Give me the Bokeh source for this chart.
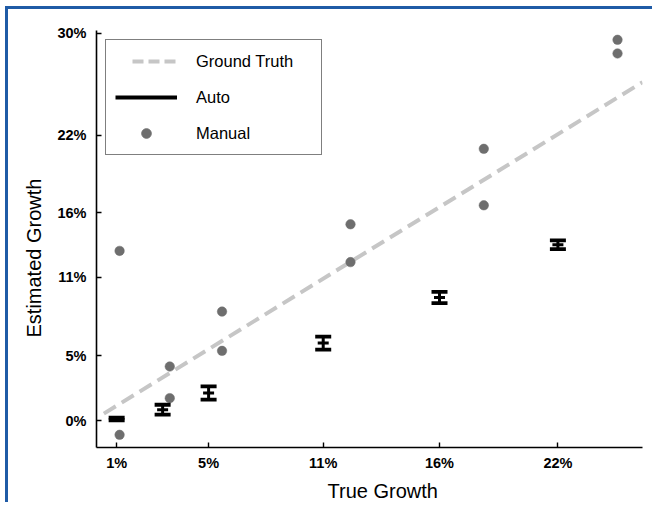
from bokeh.plotting import figure
from bokeh.models import Range1d, FixedTicker, Legend, LegendItem, Title
from bokeh.embed import file_html
from bokeh.resources import INLINE

# True growth of each test case and the automatic estimate (mean +/- spread)
true_growth = [1.15, 3.34, 5.53, 10.99, 16.53, 22.17]
auto_est = [0.13, 0.85, 2.14, 6.00, 9.53, 13.62]
auto_err = [0.10, 0.38, 0.51, 0.51, 0.44, 0.34]

# Manual estimates (two readers per case)
manual_x = [1.29, 1.29, 3.68, 3.68, 6.17, 6.17, 12.29, 12.29, 18.64, 18.64, 25.01, 25.01]
manual_y = [13.14, -1.10, 4.19, 1.74, 8.44, 5.40, 15.20, 12.27, 21.04, 16.67, 29.48, 28.42]

# Identity line (estimate == truth)
gt_growth = [0.54, 26.2]

x_ticks = [1.15, 5.53, 10.99, 16.53, 22.17]
x_tick_labels = ["1%", "5%", "11%", "16%", "22%"]
y_ticks = [0.0, 5.04, 11.09, 16.10, 22.08, 30.0]
y_tick_labels = ["0%", "5%", "11%", "16%", "22%", "30%"]

FONT = "Liberation Sans"
GRAY = "#6e6e6e"
LIGHT = "#c6c6c6"
NAN = float("nan")

p = figure(width=647, height=496, output_backend="svg", toolbar_location=None,
           x_range=Range1d(0.19, 26.2), y_range=Range1d(-2.08, 30.2),
           min_border_left=88, min_border_right=13, min_border_top=21, min_border_bottom=57)
p.margin = (6, 0, 0, 5)
p.styles = {"border-top": "3px solid #1f5ba6", "border-left": "3px solid #1f5ba6"}
p.outline_line_color = None
p.grid.visible = False
p.background_fill_color = "white"
p.border_fill_color = "white"

for ax, ticks, labels in ((p.xaxis[0], x_ticks, x_tick_labels), (p.yaxis[0], y_ticks, y_tick_labels)):
    ax.ticker = FixedTicker(ticks=ticks)
    ax.major_label_overrides = {t: l for t, l in zip(ticks, labels)}
    ax.major_tick_in = 5
    ax.major_tick_out = 0
    ax.minor_tick_in = 0
    ax.minor_tick_out = 0
    ax.axis_line_width = 1.6
    ax.major_tick_line_width = 1.4
    ax.major_label_text_font = FONT
    ax.major_label_text_font_size = "14.5px"
    ax.major_label_text_font_style = "bold"
    ax.major_label_text_color = "black"
p.xaxis.major_label_standoff = 7
p.yaxis.major_label_standoff = 10

p.add_layout(Title(text="True Growth", align="left", offset=231, standoff=8, text_color="black",
                   text_font=FONT, text_font_size="20px", text_font_style="normal"), "below")
p.add_layout(Title(text="Estimated Growth", align="left", offset=110, standoff=20, text_color="black",
                   text_font=FONT, text_font_size="20px", text_font_style="normal"), "left")

# Ground truth identity line
p.line(gt_growth, gt_growth, line_color=LIGHT, line_width=4, line_dash="14 7")

# Manual readings
p.scatter(manual_x, manual_y, size=9.5, fill_color=GRAY, line_color=GRAY, line_width=0.5)

# Automatic estimates with spread bars
lower = [m - e for m, e in zip(auto_est, auto_err)]
upper = [m + e for m, e in zip(auto_est, auto_err)]
p.segment(x0=true_growth, y0=lower, x1=true_growth, y1=upper, line_color="black", line_width=3)
for ends in (lower, upper):
    p.rect(x=true_growth, y=ends, width=16, height=3.8, width_units="screen",
           height_units="screen", fill_color="black", line_color=None)
p.rect(x=true_growth, y=auto_est, width=11, height=3, width_units="screen",
       height_units="screen", fill_color="black", line_color=None)

# Legend swatches (no visible data of their own)
lg_gt = p.line([NAN], [NAN], line_color=LIGHT, line_width=4,
               line_dash="11 5 11 5 11 17", line_dash_offset=43)
lg_auto = p.line([NAN], [NAN], line_color="black", line_width=4)
lg_manual = p.scatter([NAN], [NAN], size=9.5, fill_color=GRAY, line_color=GRAY)
legend = Legend(items=[LegendItem(label="Ground Truth", renderers=[lg_gt]),
                       LegendItem(label="Auto", renderers=[lg_auto]),
                       LegendItem(label="Manual", renderers=[lg_manual])],
                location="top_left", margin=9, padding=9, spacing=12,
                glyph_width=62, glyph_height=24, label_standoff=19, label_width=116,
                label_text_font=FONT, label_text_font_size="16.5px", label_text_color="black",
                border_line_color="black", border_line_width=1.5,
                background_fill_color="white", background_fill_alpha=1)
p.add_layout(legend)

open("out.html", "w").write(file_html(p, INLINE))
